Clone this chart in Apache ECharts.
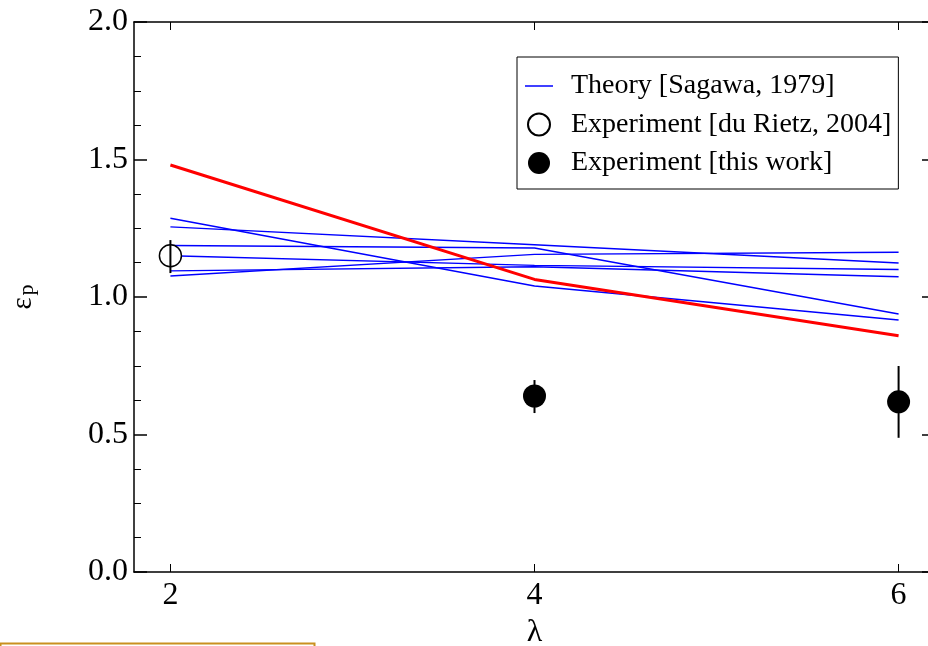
<!DOCTYPE html>
<html>
<head>
<meta charset="utf-8">
<script src="https://cdn.jsdelivr.net/npm/echarts@6/dist/echarts.min.js"></script>
<style>
  html, body { margin: 0; padding: 0; background: #fff; }
  #main { width: 928px; height: 646px; }
</style>
</head>
<body>
<div id="main"></div>
<script>
// lambda values on the x axis
var lambdas = [2, 4, 6];
var xTicks = [2, 4, 6];

// Sagawa 1979 theory curves (blue), one array per curve
var theoryA = [1.255, 1.19, 1.124];
var theoryB = [1.187, 1.178, 0.938];
var theoryC = [1.286, 1.04, 0.916];
var theoryD = [1.076, 1.155, 1.163];
var theoryE = [1.150, 1.115, 1.100];
var theoryF = [1.095, 1.110, 1.074];
var theoryCurves = [theoryA, theoryB, theoryC, theoryD, theoryE, theoryF];

// red curve
var redCurve = [1.48, 1.064, 0.859];

// du Rietz 2004 experiment
var rietzX = [2];
var rietzY = [1.15];
var rietzLow = [1.087];
var rietzHigh = [1.207];

// this work experiment
var workX = [4, 6];
var workY = [0.64, 0.619];
var workLow = [0.578, 0.488];
var workHigh = [0.698, 0.749];

var THEORY = 'Theory [Sagawa, 1979]';
var RIETZ = 'Experiment [du Rietz, 2004]';
var WORK = 'Experiment [this work]';
var FONT = '"Liberation Serif", "DejaVu Serif", serif';

function pairs(xs, ys) {
    return xs.map(function (x, i) { return [x, ys[i]]; });
}

function errorBar(params, api) {
    var x = api.value(0);
    var lo = api.coord([x, api.value(1)]);
    var hi = api.coord([x, api.value(2)]);
    return {
        type: 'line',
        shape: {x1: lo[0], y1: lo[1], x2: hi[0], y2: hi[1]},
        style: {stroke: '#000', lineWidth: 2}
    };
}

var series = [];
theoryCurves.forEach(function (curve) {
    series.push({
        name: THEORY,
        type: 'line',
        data: pairs(lambdas, curve),
        symbol: 'none',
        lineStyle: {color: '#0000ff', width: 1.5},
        itemStyle: {color: '#0000ff'},
        z: 2
    });
});
series.push({
    name: 'red',
    type: 'line',
    data: pairs(lambdas, redCurve),
    symbol: 'none',
    lineStyle: {color: '#ff0000', width: 3},
    z: 3
});
series.push({
    name: RIETZ,
    type: 'scatter',
    data: pairs(rietzX, rietzY),
    symbol: 'circle',
    symbolSize: 22,
    itemStyle: {color: '#fff', borderColor: '#000', borderWidth: 1.5, opacity: 1},
    z: 4
});
series.push({
    name: 'rietzErr',
    type: 'custom',
    renderItem: errorBar,
    data: rietzX.map(function (x, i) { return [x, rietzLow[i], rietzHigh[i]]; }),
    z: 5
});
series.push({
    name: 'workErr',
    type: 'custom',
    renderItem: errorBar,
    data: workX.map(function (x, i) { return [x, workLow[i], workHigh[i]]; }),
    z: 4
});
series.push({
    name: WORK,
    type: 'scatter',
    data: pairs(workX, workY),
    symbol: 'circle',
    symbolSize: 23,
    itemStyle: {color: '#000', opacity: 1},
    z: 5
});

var axisLine = {show: true, onZero: false, lineStyle: {color: '#000', width: 1.5}};

var option = {
    animation: false,
    backgroundColor: '#fff',
    grid: {left: 134, top: 22, width: 801, height: 550, outerBoundsMode: 'none', containLabel: false},
    legend: {
        data: [
            {name: THEORY, icon: 'path://M0,0 L28,0 L28,1.5 L0,1.5 Z', itemStyle: {color: '#0000ff'}},
            {name: RIETZ},
            {name: WORK}
        ],
        orient: 'vertical',
        left: 517,
        top: 57,
        borderColor: '#000',
        borderWidth: 1,
        padding: [15, 7, 12, 8],
        itemWidth: 28,
        itemHeight: 22,
        itemGap: 10.5,
        selectedMode: false,
        textStyle: {fontFamily: FONT, fontSize: 28, color: '#000', padding: [0, 0, 0, 13]}
    },
    xAxis: [{
        type: 'value',
        min: 1.8,
        max: 6.2,
        position: 'bottom',
        name: 'λ',
        nameLocation: 'middle',
        nameGap: 44,
        nameTextStyle: {fontFamily: FONT, fontSize: 32, color: '#000'},
        axisLine: axisLine,
        axisTick: {show: true, inside: true, length: 8, customValues: xTicks, lineStyle: {color: '#000', width: 1}},
        axisLabel: {customValues: xTicks, fontFamily: FONT, fontSize: 32, color: '#000', margin: 8},
        splitLine: {show: false}
    }, {
        type: 'value',
        min: 1.8,
        max: 6.2,
        position: 'top',
        axisLine: axisLine,
        axisTick: {show: true, inside: true, length: 8, customValues: xTicks, lineStyle: {color: '#000', width: 1}},
        axisLabel: {show: false},
        splitLine: {show: false}
    }],
    yAxis: [{
        type: 'value',
        min: 0,
        max: 2,
        interval: 0.5,
        position: 'left',
        name: '{e|ε}{p|p}',
        nameLocation: 'middle',
        nameRotate: 90,
        nameGap: 96,
        nameTextStyle: {
            rich: {
                e: {fontFamily: FONT, fontSize: 29, color: '#000', verticalAlign: 'top', lineHeight: 29},
                p: {fontFamily: FONT, fontSize: 22, color: '#000', verticalAlign: 'bottom', lineHeight: 22, padding: [20, 0, 0, 2]}
            }
        },
        axisLine: axisLine,
        axisTick: {show: true, inside: true, length: 13, lineStyle: {color: '#000', width: 1.5}},
        minorTick: {show: true, splitNumber: 4, length: 7, lineStyle: {color: '#000', width: 1}},
        axisLabel: {
            fontFamily: FONT, fontSize: 32, color: '#000', margin: 6,
            formatter: function (v) { return v.toFixed(1); }
        },
        splitLine: {show: false},
        minorSplitLine: {show: false}
    }, {
        type: 'value',
        min: 0,
        max: 2,
        interval: 0.5,
        position: 'right',
        axisLine: axisLine,
        axisTick: {show: true, inside: true, length: 13, lineStyle: {color: '#000', width: 1.5}},
        minorTick: {show: true, splitNumber: 4, length: 7, lineStyle: {color: '#000', width: 1}},
        axisLabel: {show: false},
        splitLine: {show: false}
    }],
    graphic: [{
        type: 'rect',
        left: -2,
        top: 641,
        shape: {width: 314, height: 20},
        style: {fill: 'none', stroke: '#c9901f', lineWidth: 2},
        silent: true
    }],
    series: series
};

var myChart = echarts.init(document.getElementById('main'));
myChart.setOption(option);
</script>
</body>
</html>
